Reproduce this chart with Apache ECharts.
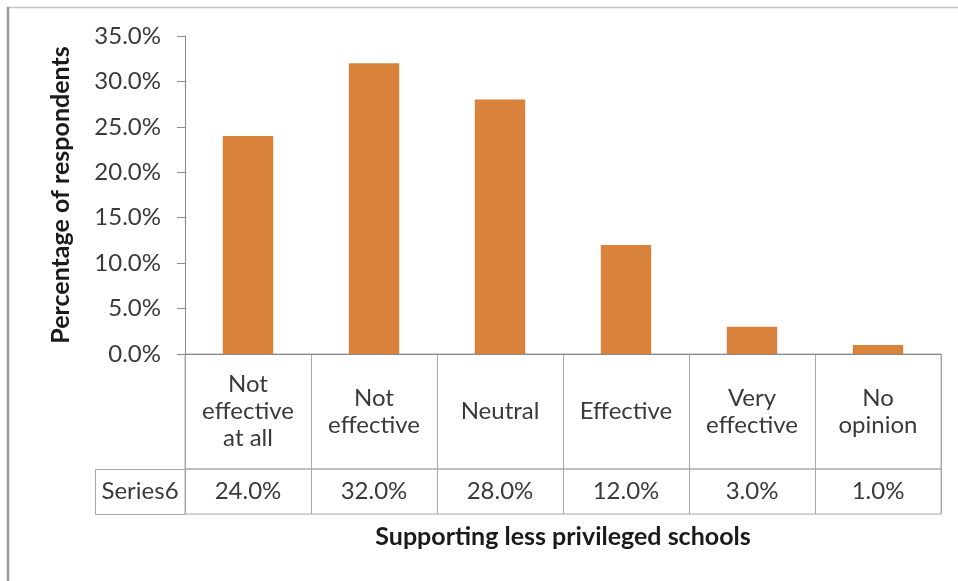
<!DOCTYPE html>
<html>
<head>
<meta charset="utf-8">
<script src="https://cdn.jsdelivr.net/npm/echarts@6/dist/echarts.min.js"></script>
<style>
  html, body { margin: 0; padding: 0; background: #ffffff; }
  #chart { width: 958px; height: 581px; }
</style>
</head>
<body>
<div id="chart"></div>
<script>
// Survey responses: how effective is support for less privileged schools
const categories = ['Not\neffective\nat all', 'Not\neffective', 'Neutral', 'Effective', 'Very\neffective', 'No\nopinion'];
const seriesName = 'Series6';
const values = [24.0, 32.0, 28.0, 12.0, 3.0, 1.0];
const yMin = 0;
const yMax = 35;
const yStep = 5;
const yTitle = 'Percentage of respondents';
const xTitle = 'Supporting less privileged schools';

const W = 958, H = 581;
const FONT = 'Lato, "Open Sans", sans-serif';
const TEXT = '#3a3a3a';
const LINE = '#a8a8a8';
const AXIS = '#8a8a8a';
const LABEL_SIZE = 24;
const TITLE_SIZE = 25;

// plot area and the data table underneath it
const plotLeft = 185, plotRight = 941, plotTop = 36, plotBottom = 354;
const labelRowBottom = 469, valueRowBottom = 514, seriesCellLeft = 95;

const pct = v => v.toFixed(1) + '%';

const chart = echarts.init(document.getElementById('chart'), null, { renderer: 'canvas' });

const tableAxis = (gridIndex, data, margin) => ({
  type: 'category',
  gridIndex,
  data,
  position: 'bottom',
  boundaryGap: true,
  axisLine: { show: false },
  axisTick: { show: false },
  splitLine: { show: true, lineStyle: { color: LINE, width: 1 } },
  axisLabel: {
    inside: true,
    margin,
    interval: 0,
    verticalAlign: 'middle',
    align: 'center',
    fontFamily: FONT,
    fontSize: LABEL_SIZE,
    lineHeight: 27,
    color: TEXT
  }
});

chart.setOption({
  animation: false,
  backgroundColor: '#ffffff',
  grid: [
    { left: plotLeft, right: W - plotRight, top: plotTop, bottom: H - plotBottom },
    { left: plotLeft, right: W - plotRight, top: plotBottom, bottom: H - labelRowBottom,
      show: true, borderColor: LINE, borderWidth: 1, backgroundColor: 'transparent' },
    { left: plotLeft, right: W - plotRight, top: labelRowBottom, bottom: H - valueRowBottom,
      show: true, borderColor: LINE, borderWidth: 1, backgroundColor: 'transparent' }
  ],
  xAxis: [
    {
      type: 'category',
      gridIndex: 0,
      data: categories,
      boundaryGap: true,
      axisLine: { show: true, lineStyle: { color: AXIS, width: 1 } },
      axisTick: { show: false },
      axisLabel: { show: false },
      splitLine: { show: false }
    },
    tableAxis(1, categories, labelRowBottom - (plotBottom + labelRowBottom) / 2),
    tableAxis(2, values.map(pct), (valueRowBottom - labelRowBottom) / 2)
  ],
  yAxis: [
    {
      type: 'value',
      gridIndex: 0,
      min: yMin,
      max: yMax,
      interval: yStep,
      name: yTitle,
      nameLocation: 'middle',
      nameRotate: 90,
      nameGap: 112,
      nameTextStyle: { fontFamily: FONT, fontSize: TITLE_SIZE, fontWeight: 'bold', color: '#1a1a1a' },
      axisLine: { show: true, lineStyle: { color: AXIS, width: 1 } },
      axisTick: { show: true, inside: false, length: 8, lineStyle: { color: AXIS } },
      axisLabel: { margin: 24, formatter: v => pct(v), fontFamily: FONT, fontSize: LABEL_SIZE, color: TEXT },
      splitLine: { show: false }
    },
    { type: 'value', gridIndex: 1, min: 0, max: 1, show: false },
    { type: 'value', gridIndex: 2, min: 0, max: 1, show: false }
  ],
  series: [{
    name: seriesName,
    type: 'bar',
    xAxisIndex: 0,
    yAxisIndex: 0,
    data: values,
    barWidth: '40%',
    itemStyle: { color: '#d9823c' }
  }],
  graphic: [
    // page frame
    { type: 'line', shape: { x1: 7, y1: 7.5, x2: W, y2: 7.5 }, style: { stroke: '#c4c4c4', lineWidth: 1.5 } },
    { type: 'line', shape: { x1: 8, y1: 7, x2: 8, y2: H }, style: { stroke: '#9a9a9a', lineWidth: 2.5 } },
    // series name cell of the data table
    { type: 'rect', shape: { x: seriesCellLeft + 0.5, y: labelRowBottom + 0.5, width: plotLeft - seriesCellLeft, height: valueRowBottom - labelRowBottom },
      style: { fill: 'none', stroke: LINE, lineWidth: 1 } },
    { type: 'text', x: (seriesCellLeft + plotLeft) / 2, y: (labelRowBottom + valueRowBottom) / 2,
      style: { text: seriesName, fontFamily: FONT, fontSize: LABEL_SIZE, fill: TEXT, align: 'center', verticalAlign: 'middle' } },
    // horizontal axis title
    { type: 'text', x: (plotLeft + plotRight) / 2, y: 537,
      style: { text: xTitle, fontFamily: FONT, fontSize: TITLE_SIZE, fontWeight: 'bold', fill: '#1a1a1a', align: 'center', verticalAlign: 'middle' } }
  ]
});
</script>
</body>
</html>
